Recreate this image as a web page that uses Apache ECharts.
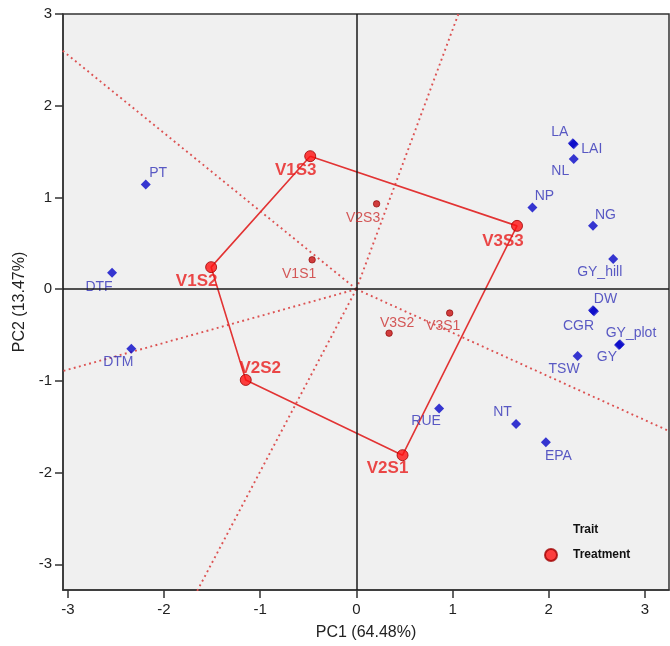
<!DOCTYPE html>
<html>
<head>
<meta charset="utf-8">
<script src="https://cdn.jsdelivr.net/npm/echarts@6/dist/echarts.min.js"></script>
<style>html,body{margin:0;padding:0;background:#fff}#c{width:670px;height:646px}</style>
</head>
<body>
<div id="c"></div>
<script>
// ---- data ----
const traitNames = ['PT','DTF','DTM','LA','LAI','NL','NP','NG','GY_hill','DW','CGR','GY_plot','GY','TSW','RUE','NT','EPA'];
const traitPC1   = [-2.19,-2.54,-2.34, 2.25, 2.26, 2.26, 1.83, 2.46, 2.67, 2.46, 2.47, 2.73, 2.74, 2.30, 0.86, 1.66, 1.97];
const traitPC2   = [ 1.14, 0.18,-0.65, 1.59, 1.58, 1.42, 0.89, 0.69, 0.33,-0.23,-0.24,-0.61,-0.60,-0.73,-1.30,-1.47,-1.67];

const treatNames = ['V1S3','V1S2','V2S2','V2S1','V3S3','V2S3','V1S1','V3S2','V3S1'];
const treatPC1   = [-0.48,-1.51,-1.15, 0.48, 1.67, 0.21,-0.46, 0.34, 0.97];
const treatPC2   = [ 1.45, 0.24,-0.99,-1.81, 0.69, 0.93, 0.32,-0.48,-0.26];

// polygon (convex hull) vertices, in drawing order
const hullNames = ['V1S3','V3S3','V2S1','V2S2','V1S2'];

const xTicks = [-3,-2,-1,0,1,2,3];
const yTicks = [-3,-2,-1,0,1,2,3];
const xTitle = 'PC1 (64.48%)';
const yTitle = 'PC2 (13.47%)';

// ---- label placement (style) ----
const traitLabelOffset = {
  PT:[12.5,-11.5], DTF:[-13,14.5], DTM:[-13,13], LA:[-13,-11], LAI:[18,4.5], NL:[-13.5,12.5],
  NP:[12,-11.5], NG:[12.5,-10.5], GY_hill:[-13.5,13.5], DW:[12.5,-11], CGR:[-15.5,14.5],
  GY_plot:[12,-11.5], GY:[-13,13], TSW:[-13.5,13], RUE:[-13,13], NT:[-13.5,-11.5], EPA:[12.5,13.5]
};
const treatLabelOffset = {
  V1S3:[-14.5,14], V1S2:[-14.5,14.5], V2S2:[14.5,-11.5], V2S1:[-15,13], V3S3:[-14,15.5],
  V2S3:[-13.5,14], V1S1:[-13,14.5], V3S2:[8,-10.5], V3S1:[-6.5,13]
};

const FONT = '"Liberation Sans", Arial, sans-serif';

// ---- build ----
const pt = (name) => { const i = treatNames.indexOf(name); return [treatPC1[i], treatPC2[i]]; };
const hullPts = hullNames.map(pt);
const polyData = hullPts.concat([hullPts[0]]);

// rays from origin perpendicular to each polygon side
const rays = hullPts.map((a, k) => {
  const b = hullPts[(k + 1) % hullPts.length];
  let dx = b[1] - a[1], dy = -(b[0] - a[0]);
  const mx = (a[0] + b[0]) / 2, my = (a[1] + b[1]) / 2;
  if (dx * mx + dy * my < 0) { dx = -dx; dy = -dy; }
  const L = Math.hypot(dx, dy);
  return [[0, 0], [dx / L * 20, dy / L * 20]];
});

const traitData = traitNames.map((n, i) => ({
  name: n, value: [traitPC1[i], traitPC2[i]],
  label: { offset: traitLabelOffset[n] }
}));
const treatData = treatNames.map((n, i) => {
  const v = hullNames.includes(n);
  return {
    name: n, value: [treatPC1[i], treatPC2[i]],
    symbolSize: v ? 11 : 6.5,
    itemStyle: v ? {} : { color: '#c81010', borderColor: '#8a0000', borderWidth: 0.8 },
    label: v ? { offset: treatLabelOffset[n], fontSize: 17, fontWeight: 'bold', color: '#e81c1c' }
             : { offset: treatLabelOffset[n], fontSize: 14, fontWeight: 'normal', color: '#cc3030' }
  };
});

const series = [];
series.push({
  type: 'line', name: 'axes0', data: [], silent: true, z: 1,
  markLine: {
    silent: true, symbol: ['none','none'], animation: false,
    label: { show: false },
    lineStyle: { color: '#1a1a1a', width: 1.5, type: 'solid' },
    data: [{ xAxis: 0 }, { yAxis: 0 }]
  }
});
rays.forEach((r, k) => series.push({
  type: 'line', name: 'ray' + k, data: r, showSymbol: false, symbol: 'none', clip: true, silent: true, z: 2,
  lineStyle: { color: '#dc5252', width: 1.9, type: [1.9, 3.4] }
}));
series.push({
  type: 'line', name: 'polygon', data: polyData, showSymbol: false, symbol: 'none', silent: true, z: 3,
  lineStyle: { color: '#e23434', width: 1.6 }
});
series.push({
  type: 'scatter', name: 'Trait', data: traitData, symbol: 'diamond', symbolSize: 10, z: 4,
  itemStyle: { color: '#0606c8' },
  label: { show: true, position: 'inside', formatter: '{b}', fontSize: 14, color: '#3232b8', fontFamily: FONT }
});
series.push({
  type: 'scatter', name: 'Treatment', data: treatData, symbol: 'circle', z: 5,
  itemStyle: { color: '#ff1010', borderColor: '#a00000', borderWidth: 1 },
  label: { show: true, position: 'inside', formatter: '{b}', fontFamily: FONT }
});

const axisCommon = {
  type: 'value',
  splitLine: { show: false },
  axisLine: { show: true, onZero: false, lineStyle: { color: '#333', width: 1.5 } },
  nameLocation: 'middle',
  nameTextStyle: { fontSize: 16, color: '#222', fontFamily: FONT }
};

const option = {
  animation: false,
  backgroundColor: '#fff',
  grid: { left: 63, right: 1, top: 14, bottom: 53, show: true, backgroundColor: '#f0f0f0', borderColor: '#333', borderWidth: 1.5 },
  xAxis: Object.assign({}, axisCommon, {
    min: -3.05, max: 3.25, name: xTitle, nameGap: 35,
    axisTick: { show: true, length: 8, customValues: xTicks, lineStyle: { color: '#333', width: 1.5 } },
    axisLabel: { customValues: xTicks, margin: 12, fontSize: 15, color: '#222', fontFamily: FONT }
  }),
  yAxis: Object.assign({}, axisCommon, {
    min: -3.28, max: 3, name: yTitle, nameGap: 31,
    axisTick: { show: true, length: 8, customValues: yTicks, lineStyle: { color: '#333', width: 1.5 } },
    axisLabel: { customValues: yTicks, margin: 11, fontSize: 15, color: '#222', fontFamily: FONT }
  }),
  legend: {
    orient: 'vertical', left: 529, top: 518.5, itemWidth: 34, itemHeight: 12, itemGap: 12.5,
    selectedMode: false,
    textStyle: { fontWeight: 'bold', fontSize: 12, color: '#111', fontFamily: FONT },
    data: [{ name: 'Trait', itemStyle: { opacity: 0 } }, { name: 'Treatment', icon: 'circle' }]
  },
  series: series
};

const chart = echarts.init(document.getElementById('c'), null, { renderer: 'canvas' });
chart.setOption(option);
</script>
</body>
</html>
